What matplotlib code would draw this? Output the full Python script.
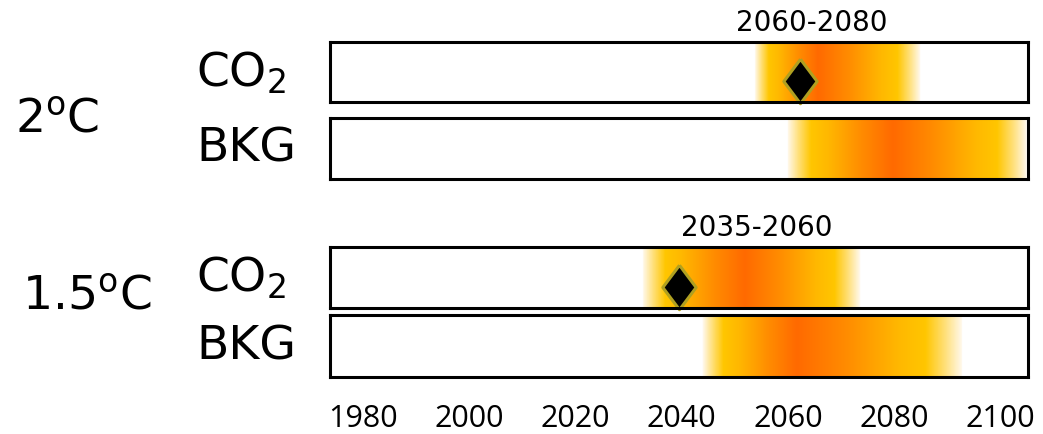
import numpy as np
import matplotlib
matplotlib.use("Agg")
import matplotlib.pyplot as plt
from matplotlib.colors import LinearSegmentedColormap

# data (years)
rows = ["CO$_2$", "BKG", "CO$_2$", "BKG"]
starts = [2053.8, 2060.0, 2032.7, 2044.0]
peaks = [2065.7, 2079.8, 2051.9, 2061.7]
ends = [2084.9, 2105.0, 2073.6, 2092.8]
diamond_years = [2062.3, None, 2039.5, None]
range_labels = ["2060-2080", None, "2035-2060", None]
range_label_x = [2064.5, None, 2054.2, None]
scenarios = ["2$^{\\rm o}$C", "1.5$^{\\rm o}$C"]
ticks = [1980, 2000, 2020, 2040, 2060, 2080, 2100]

xlim = (1973.8, 2105.2)

cmap = LinearSegmentedColormap.from_list("heat", [
    (0.0, "#ff6a00"),
    (0.3, "#ff8c00"),
    (0.62, "#ffb800"),
    (0.78, "#ffc600"),
    (0.9, "#ffe07a"),
    (1.0, "#fff8ea"),
])

fig = plt.figure(figsize=(10.43, 4.35), dpi=100)

# bar boxes in pixels (top, bottom) of a 435 px tall figure
boxes = [(43, 103), (119, 180), (248, 309), (316, 378)]
left, width = 330 / 1043, 698 / 1043

years = np.linspace(xlim[0], xlim[1], 2000)
axes = []
for i in range(4):
    top, bot = boxes[i]
    ax = fig.add_axes([left, 1 - bot / 435, width, (bot - top) / 435])
    s, p, e = starts[i], peaks[i], ends[i]
    d = np.where(years < p, (p - years) / (p - s), (years - p) / (e - p))
    rgba = cmap(np.clip(d, 0, 1))
    rgba[d >= 1] = (1, 1, 1, 1)
    ax.imshow(rgba[None, :, :], extent=(xlim[0], xlim[1], 0, 1),
              aspect="auto", interpolation="bilinear")
    if diamond_years[i] is not None:
        ax.plot(diamond_years[i], 0.35,
                marker=[(0, 1), (0.75, 0), (0, -1), (-0.75, 0), (0, 1)],
                markersize=32, markerfacecolor="black",
                markeredgecolor="#b0a020", markeredgewidth=2.2, clip_on=False)
    if range_labels[i] is not None:
        ax.text(range_label_x[i], 1.1, range_labels[i], ha="center",
                va="bottom", fontsize=20)
    ax.set_xlim(xlim)
    ax.set_ylim(0, 1)
    ax.set_yticks([])
    for sp in ax.spines.values():
        sp.set_linewidth(2.2)
    ax.text(-0.192, 0.5, rows[i], transform=ax.transAxes, ha="left",
            va="center", fontsize=34)
    axes.append(ax)

for ax in axes[:-1]:
    ax.set_xticks([])

axes[-1].set_xticks(ticks)
axes[-1].tick_params(axis="x", length=0, pad=19, labelsize=22)
for lab in axes[-1].get_xticklabels():
    lab.set_family("Open Sans")

fig.text(15 / 1043, 1 - 120 / 435, scenarios[0], ha="left", va="center",
         fontsize=34)
fig.text(22 / 1043, 1 - 297 / 435, scenarios[1], ha="left", va="center",
         fontsize=34)

fig.savefig("out.png", dpi=100)
